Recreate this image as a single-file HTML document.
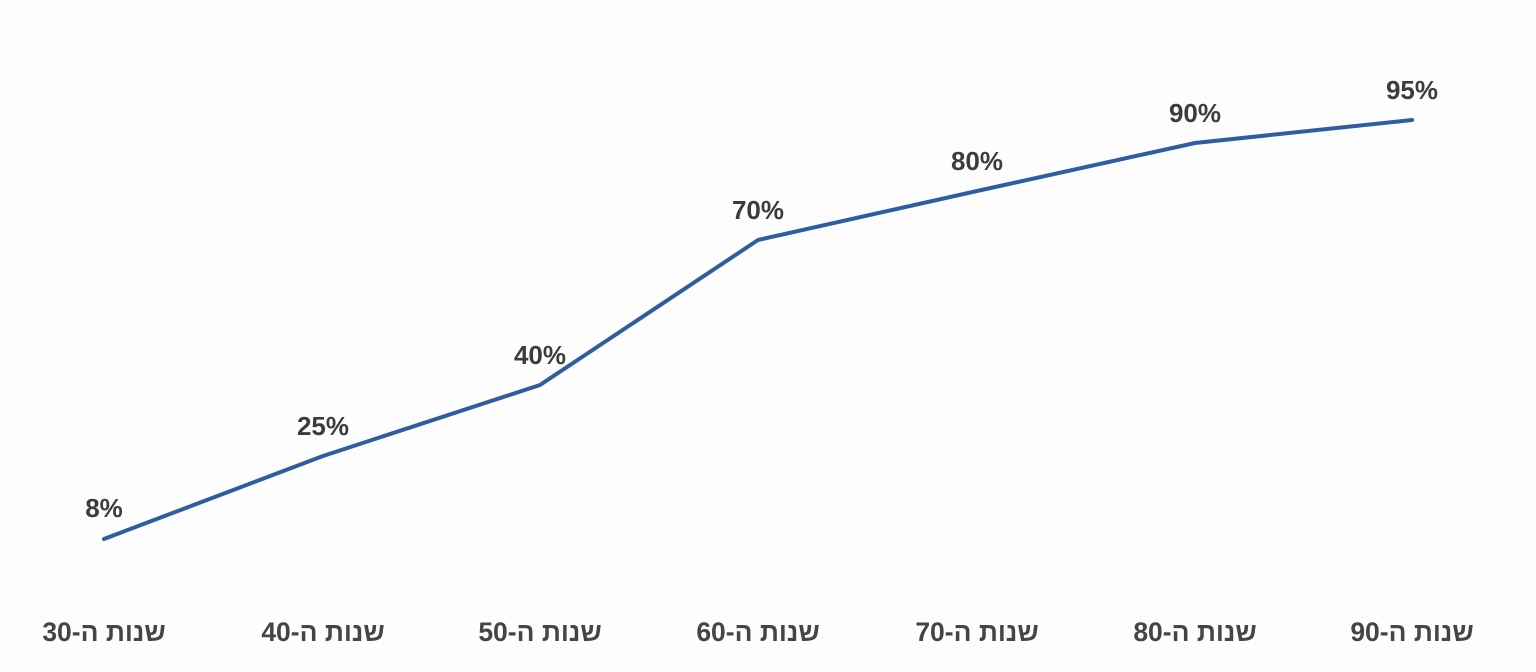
<!DOCTYPE html>
<html><head><meta charset="utf-8"><style>
html,body{margin:0;padding:0;background:#fdfdfd;}
svg{display:block}
</style></head><body>
<svg width="1536" height="672" xmlns="http://www.w3.org/2000/svg">
<rect width="1536" height="672" fill="#fdfdfd"/>
<polyline points="104,539 323,456 540,385 758,240 977,191 1195,143 1412,120" fill="none" stroke="#2e5e9f" stroke-width="4" stroke-linejoin="round" stroke-linecap="round"/>
<g font-family="'Liberation Sans','DejaVu Sans',sans-serif" font-weight="bold" font-size="26" fill="#3c3c3c" text-anchor="middle">
<text x="104" y="517">8%</text>
<text x="323" y="435">25%</text>
<text x="540" y="364">40%</text>
<text x="758" y="219">70%</text>
<text x="977" y="170">80%</text>
<text x="1195" y="122">90%</text>
<text x="1412" y="99">95%</text>
</g>
<g font-family="'Liberation Sans','DejaVu Sans',sans-serif" font-weight="bold" font-size="26.5" fill="#454545" text-anchor="middle">
<text x="104" y="641" direction="rtl" unicode-bidi="embed">שנות ה-30</text>
<text x="323" y="641" direction="rtl" unicode-bidi="embed">שנות ה-40</text>
<text x="540" y="641" direction="rtl" unicode-bidi="embed">שנות ה-50</text>
<text x="758" y="641" direction="rtl" unicode-bidi="embed">שנות ה-60</text>
<text x="977" y="641" direction="rtl" unicode-bidi="embed">שנות ה-70</text>
<text x="1195" y="641" direction="rtl" unicode-bidi="embed">שנות ה-80</text>
<text x="1412" y="641" direction="rtl" unicode-bidi="embed">שנות ה-90</text>
</g>
</svg>
</body></html>
